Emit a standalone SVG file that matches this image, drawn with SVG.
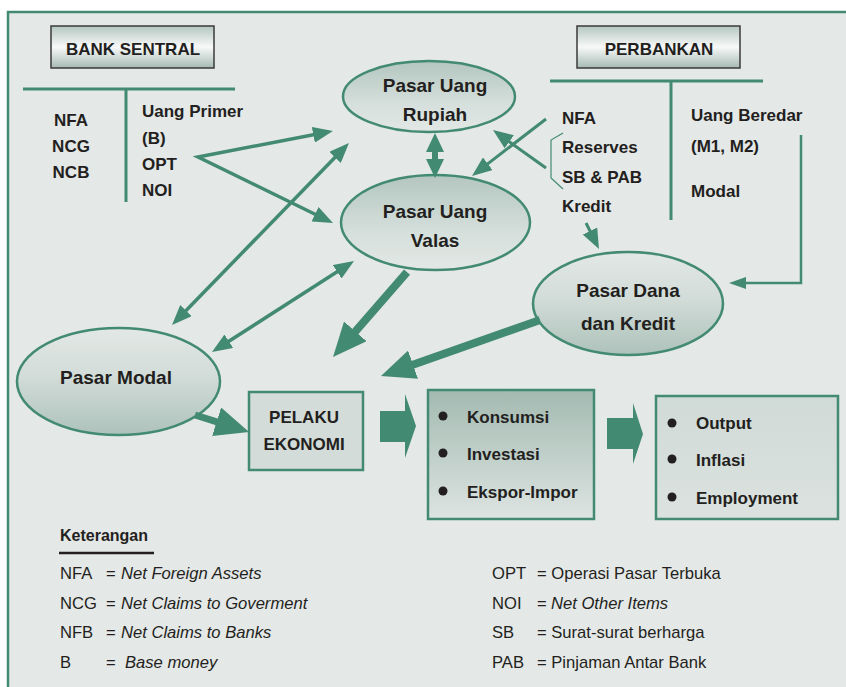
<svg xmlns="http://www.w3.org/2000/svg" width="846" height="687" viewBox="0 0 846 687">
<style>
text{font-family:"Liberation Sans",Arial,sans-serif;fill:#231f20}
.b{font-weight:bold;font-size:17px}
.e{font-weight:bold;font-size:19px}
.l{font-size:16.6px}
.i{font-style:italic}
.g{stroke:#438a72;fill:none}
.ell{stroke:#438a72;stroke-width:2.5}
.hdr{stroke:#3a3a3a;stroke-width:1.5;fill:url(#gHdr)}
.box{stroke:#438a72;stroke-width:2.5}
.blk{fill:#438a72}
</style>
<defs>
<linearGradient id="gHdr" x1="0" y1="0" x2="0" y2="1">
<stop offset="0" stop-color="#b5c6c0"/><stop offset="0.5" stop-color="#f7f9f8"/><stop offset="1" stop-color="#a6bab3"/>
</linearGradient>
<linearGradient id="gEllA" x1="0" y1="0" x2="0" y2="1">
<stop offset="0" stop-color="#b3c6bf"/><stop offset="0.6" stop-color="#d5dfdb"/><stop offset="1" stop-color="#e2e8e5"/>
</linearGradient>
<linearGradient id="gEllB" x1="0" y1="0" x2="0" y2="1">
<stop offset="0" stop-color="#e2e8e5"/><stop offset="0.45" stop-color="#d2dcd8"/><stop offset="1" stop-color="#adc2ba"/>
</linearGradient>
<linearGradient id="gKons" x1="0" y1="0" x2="0" y2="1">
<stop offset="0" stop-color="#a3bab1"/><stop offset="1" stop-color="#dde4e1"/>
</linearGradient>
<linearGradient id="gOut" x1="0" y1="0" x2="0" y2="1">
<stop offset="0" stop-color="#d0dad6"/><stop offset="1" stop-color="#dbe2df"/>
</linearGradient>
<marker id="ah" markerUnits="userSpaceOnUse" viewBox="0 0 20 16" markerWidth="20" markerHeight="16" refX="12" refY="8" orient="auto-start-reverse"><path d="M0,0 L20,8 L0,16 z" fill="#438a72"/></marker>
<marker id="ahs" markerUnits="userSpaceOnUse" viewBox="0 0 17 12" markerWidth="17" markerHeight="12" refX="9" refY="6" orient="auto-start-reverse"><path d="M0,0 L17,6 L0,12 z" fill="#438a72"/></marker>
<marker id="ahm" markerUnits="userSpaceOnUse" viewBox="0 0 19 18" markerWidth="19" markerHeight="18" refX="10" refY="9" orient="auto-start-reverse"><path d="M0,0 L19,9 L0,18 z" fill="#438a72"/></marker>
<marker id="ahb" markerUnits="userSpaceOnUse" viewBox="0 0 34 30" markerWidth="34" markerHeight="30" refX="22" refY="15" orient="auto"><path d="M0,0 L34,15 L0,30 z" fill="#438a72"/></marker>
</defs>

<rect x="0" y="0" width="846" height="687" fill="#ffffff"/>
<rect x="8" y="12" width="840" height="680" fill="#e4e8e7"/>
<path d="M8,687 L8,12 L846,12" fill="none" stroke="#438a72" stroke-width="2.5"/>

<g id="bank-sentral">
<rect class="hdr" x="51" y="26" width="163" height="42"/>
<text class="b" x="133" y="55" text-anchor="middle">BANK SENTRAL</text>
<path class="g" stroke-width="3" d="M23,89 L235,89 M126,89 L126,202"/>
<text class="b" x="71" y="126" text-anchor="middle">NFA</text>
<text class="b" x="71" y="152" text-anchor="middle">NCG</text>
<text class="b" x="71" y="178" text-anchor="middle">NCB</text>
<text class="b" x="142" y="117">Uang Primer</text>
<text class="b" x="142" y="144">(B)</text>
<text class="b" x="142" y="170">OPT</text>
<text class="b" x="142" y="196">NOI</text>
</g>

<g id="perbankan">
<rect class="hdr" x="577" y="26" width="163" height="42"/>
<text class="b" x="659" y="55" text-anchor="middle">PERBANKAN</text>
<path class="g" stroke-width="3" d="M550,81 L763,81 M671,81 L671,220"/>
<text class="b" x="562" y="124">NFA</text>
<text class="b" x="562" y="153">Reserves</text>
<text class="b" x="562" y="183">SB &amp; PAB</text>
<text class="b" x="562" y="212">Kredit</text>
<text class="b" x="691" y="121">Uang Beredar</text>
<text class="b" x="691" y="152">(M1, M2)</text>
<text class="b" x="691" y="197">Modal</text>
<path class="g" stroke-width="1.2" d="M563,133 L551,140 L551,178 L563,189"/>
</g>

<g id="pasar-uang-rupiah">
<ellipse class="ell" cx="429" cy="96.5" rx="86" ry="35.5" fill="url(#gEllA)"/>
<text class="e" x="435" y="92" text-anchor="middle">Pasar Uang</text>
<text class="e" x="435" y="121" text-anchor="middle">Rupiah</text>
</g>

<g id="pasar-uang-valas">
<ellipse class="ell" cx="435.5" cy="222.5" rx="94.5" ry="47.5" fill="url(#gEllA)"/>
<text class="e" x="435" y="218" text-anchor="middle">Pasar Uang</text>
<text class="e" x="435" y="247" text-anchor="middle">Valas</text>
</g>

<g id="pasar-modal">
<ellipse class="ell" cx="118.5" cy="381.5" rx="101.5" ry="53.5" fill="url(#gEllB)"/>
<text class="e" x="116" y="384" text-anchor="middle">Pasar Modal</text>
</g>

<g id="pasar-dana-kredit">
<ellipse class="ell" cx="628" cy="303.5" rx="95" ry="51.5" fill="url(#gEllB)"/>
<text class="e" x="628" y="297" text-anchor="middle">Pasar Dana</text>
<text class="e" x="628" y="330" text-anchor="middle">dan Kredit</text>
</g>

<g id="pelaku-ekonomi">
<rect class="box" x="249" y="392" width="114" height="78" fill="#d3dcd8"/>
<text class="b" x="304" y="423" text-anchor="middle">PELAKU</text>
<text class="b" x="304" y="450" text-anchor="middle">EKONOMI</text>
</g>

<g id="pengeluaran">
<rect class="box" x="428" y="390" width="166" height="129" fill="url(#gKons)"/>
<circle cx="443" cy="416" r="4.5" fill="#231f20"/>
<circle cx="443" cy="453" r="4.5" fill="#231f20"/>
<circle cx="443" cy="491" r="4.5" fill="#231f20"/>
<text class="b" x="467" y="423">Konsumsi</text>
<text class="b" x="467" y="460">Investasi</text>
<text class="b" x="467" y="498">Ekspor-Impor</text>
</g>

<g id="hasil">
<rect class="box" x="656" y="396" width="182" height="123" fill="url(#gOut)"/>
<circle cx="672" cy="423" r="4.5" fill="#231f20"/>
<circle cx="672" cy="459" r="4.5" fill="#231f20"/>
<circle cx="672" cy="497" r="4.5" fill="#231f20"/>
<text class="b" x="696" y="429">Output</text>
<text class="b" x="696" y="466">Inflasi</text>
<text class="b" x="696" y="504">Employment</text>
</g>

<g id="connectors">
<polyline class="g" stroke-width="3.5" points="325.1,132.5 198,157 325.8,219.5" marker-start="url(#ah)" marker-end="url(#ah)"/>
<line class="g" stroke-width="3.5" x1="343.4" y1="148.7" x2="177.6" y2="319.3" marker-start="url(#ah)" marker-end="url(#ah)"/>
<line class="g" stroke-width="3.5" x1="347.3" y1="265.3" x2="218.7" y2="347.7" marker-start="url(#ah)" marker-end="url(#ah)"/>
<line class="g" stroke-width="6" x1="435" y1="142" x2="435" y2="169" marker-start="url(#ahm)" marker-end="url(#ahm)"/>
<line class="g" stroke-width="3" x1="546" y1="119" x2="478.3" y2="171.1" marker-end="url(#ah)"/>
<line class="g" stroke-width="3" x1="546" y1="168" x2="499.5" y2="134.7" marker-end="url(#ah)"/>
<line class="g" stroke-width="3" x1="586" y1="223" x2="595.4" y2="241.8" marker-end="url(#ah)"/>
<polyline class="g" stroke-width="2.5" points="801,135 801,283 737,283" marker-end="url(#ahs)"/>
<line class="g" stroke-width="8" x1="407" y1="272" x2="340.9" y2="348" marker-end="url(#ahb)"/>
<line class="g" stroke-width="8" x1="540" y1="320" x2="392.3" y2="372" marker-end="url(#ahb)"/>
<line class="g" stroke-width="7" x1="195" y1="415" x2="237.6" y2="428.4" marker-end="url(#ahb)"/>
<polygon class="blk" points="380,411 405,411 405,394 416,426 405,458 405,442 380,442"/>
<polygon class="blk" points="607,418 633,418 633,403 643,434 633,464 633,449 607,449"/>
</g>

<g id="keterangan">
<text x="60" y="541" style="font-weight:bold;font-size:16px">Keterangan</text>
<line x1="59" y1="553" x2="154" y2="553" stroke="#231f20" stroke-width="2.5"/>
<text class="l" x="60" y="579">NFA</text><text class="l" x="106" y="579">=</text><text class="l i" x="121" y="579">Net Foreign Assets</text>
<text class="l" x="60" y="609">NCG</text><text class="l" x="106" y="609">=</text><text class="l i" x="121" y="609">Net Claims to Goverment</text>
<text class="l" x="60" y="638">NFB</text><text class="l" x="106" y="638">=</text><text class="l i" x="121" y="638">Net Claims to Banks</text>
<text class="l" x="60" y="668">B</text><text class="l" x="106" y="668">=</text><text class="l i" x="125" y="668">Base money</text>
<text class="l" x="492" y="579">OPT</text><text class="l" x="537" y="579">= Operasi Pasar Terbuka</text>
<text class="l" x="492" y="609">NOI</text><text class="l" x="537" y="609">=</text><text class="l i" x="551" y="609">Net Other Items</text>
<text class="l" x="492" y="638">SB</text><text class="l" x="537" y="638">= Surat-surat berharga</text>
<text class="l" x="492" y="668">PAB</text><text class="l" x="537" y="668">= Pinjaman Antar Bank</text>
</g>
</svg>
